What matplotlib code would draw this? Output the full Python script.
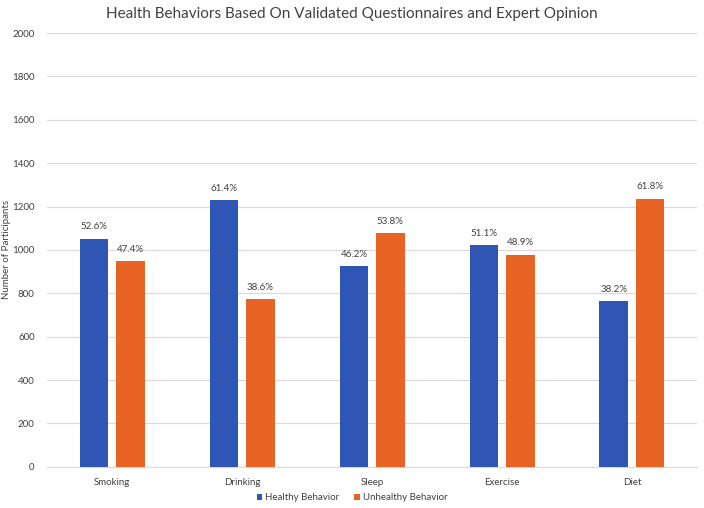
import matplotlib.pyplot as plt
import numpy as np

categories = ['Smoking', 'Drinking', 'Sleep', 'Exercise', 'Diet']
healthy = [1052, 1228, 924, 1022, 764]
unhealthy = [948, 772, 1076, 978, 1236]
healthy_pct = ['52.6%', '61.4%', '46.2%', '51.1%', '38.2%']
unhealthy_pct = ['47.4%', '38.6%', '53.8%', '48.9%', '61.8%']

plt.rcParams['font.family'] = ['Lato', 'DejaVu Sans']

fig = plt.figure(figsize=(7.04, 5.08), dpi=100)
ax = fig.add_axes([0.067, 0.081, 0.923, 0.854])

x = np.arange(len(categories))
w = 0.22
off = 0.14
b1 = ax.bar(x - off, healthy, w, color='#2F55B5', label='Healthy Behavior', zorder=3)
b2 = ax.bar(x + off, unhealthy, w, color='#E86424', label='Unhealthy Behavior', zorder=3)

for bars, labels in ((b1, healthy_pct), (b2, unhealthy_pct)):
    for rect, lab in zip(bars, labels):
        ax.text(rect.get_x() + rect.get_width() / 2, rect.get_height() + 35, lab,
                ha='center', va='bottom', fontsize=7, color='#404040')

ax.set_xlim(-0.5, 4.5)
ax.set_ylim(0, 2000)
ax.set_yticks(range(0, 2001, 200))
ax.set_xticks(x)
ax.set_xticklabels(categories)
ax.tick_params(axis='both', length=0, labelsize=7, colors='#404040')
ax.tick_params(axis='y', pad=9)
ax.tick_params(axis='x', pad=8)
ax.grid(axis='y', color='#D9D9D9', linewidth=0.8, zorder=0)
for s in ['top', 'right', 'left']:
    ax.spines[s].set_visible(False)
ax.spines['bottom'].set_color('#D9D9D9')

ax.set_ylabel('Number of Participants', fontsize=7, color='#404040')
ax.yaxis.set_label_coords(-0.056, 0.5)
fig.text(0.5, 0.972, 'Health Behaviors Based On Validated Questionnaires and Expert Opinion',
         ha='center', va='center', fontsize=11, color='#404040')
fig.legend(loc='center', bbox_to_anchor=(0.5, 0.02), ncol=2, frameon=False,
           fontsize=7, handlelength=0.6, handleheight=0.6, columnspacing=1.5,
           handletextpad=0.3, labelcolor='#404040')

fig.savefig('out.png', dpi=100)
